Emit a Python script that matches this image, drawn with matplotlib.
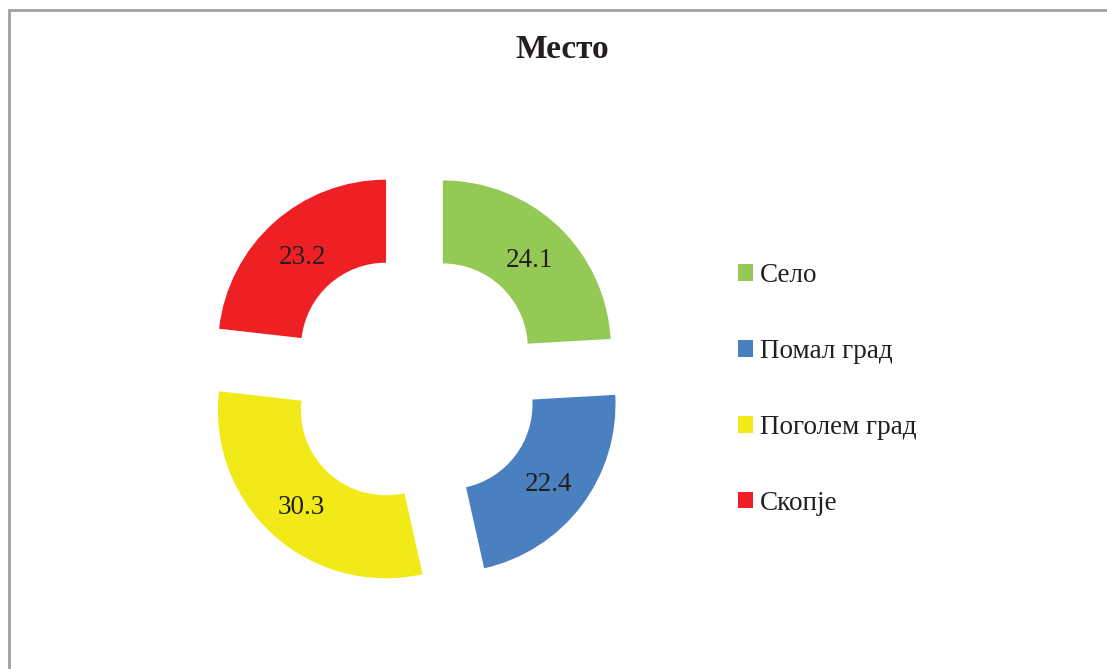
import matplotlib
matplotlib.use('Agg')
import matplotlib.pyplot as plt
from matplotlib.patches import Patch

plt.rcParams['font.family'] = ['Liberation Serif', 'DejaVu Serif']

title = 'Место'
categories = ['Село', 'Помал град', 'Поголем град', 'Скопје']
values = [24.1, 22.4, 30.3, 23.2]
colors = ['#94c955', '#4a80c0', '#f1ea18', '#ee2024']

W, H = 1107, 669
fig = plt.figure(figsize=(W / 100, H / 100), dpi=100)
ax = fig.add_axes([0, 0, 1, 1])
ax.set_xlim(0, W)
ax.set_ylim(0, H)
ax.set_aspect('equal')
ax.axis('off')

# frame around the chart area (cut on right and bottom like the source)
ax.plot([9, 9, W], [0, H - 10, H - 10], color='#a0a0a0', lw=2, solid_joinstyle='miter')

total = sum(values)
radius = 168
wedges, texts, autotexts = ax.pie(
    values, colors=colors, startangle=90, counterclock=False,
    center=(414, H - 379), radius=radius, explode=[42] * len(values),
    wedgeprops=dict(width=83, linewidth=0),
    autopct=lambda p: '{:.1f}'.format(p * total / 100), pctdistance=0.75,
    textprops=dict(fontsize=19.5, color='#231f20'))
for t in autotexts:
    x, y = t.get_position()
    t.set_position((x, y - 4))
ax.set_xlim(0, W)
ax.set_ylim(0, H)

ax.text(562, H - 49, title, ha='center', va='center', fontsize=24,
        fontweight='bold', color='#231f20')

handles = [Patch(facecolor=c, edgecolor='none') for c in colors]
leg = fig.legend(handles, categories, loc='center left',
                 bbox_to_anchor=(738 / W, (H - 389.5) / H),
                 frameon=False, fontsize=19.5, handlelength=0.55, handleheight=0.55,
                 handletextpad=0.25, labelspacing=1.88, borderpad=0, borderaxespad=0)
for t in leg.get_texts():
    t.set_color('#231f20')

fig.savefig('out.png', dpi=100)
